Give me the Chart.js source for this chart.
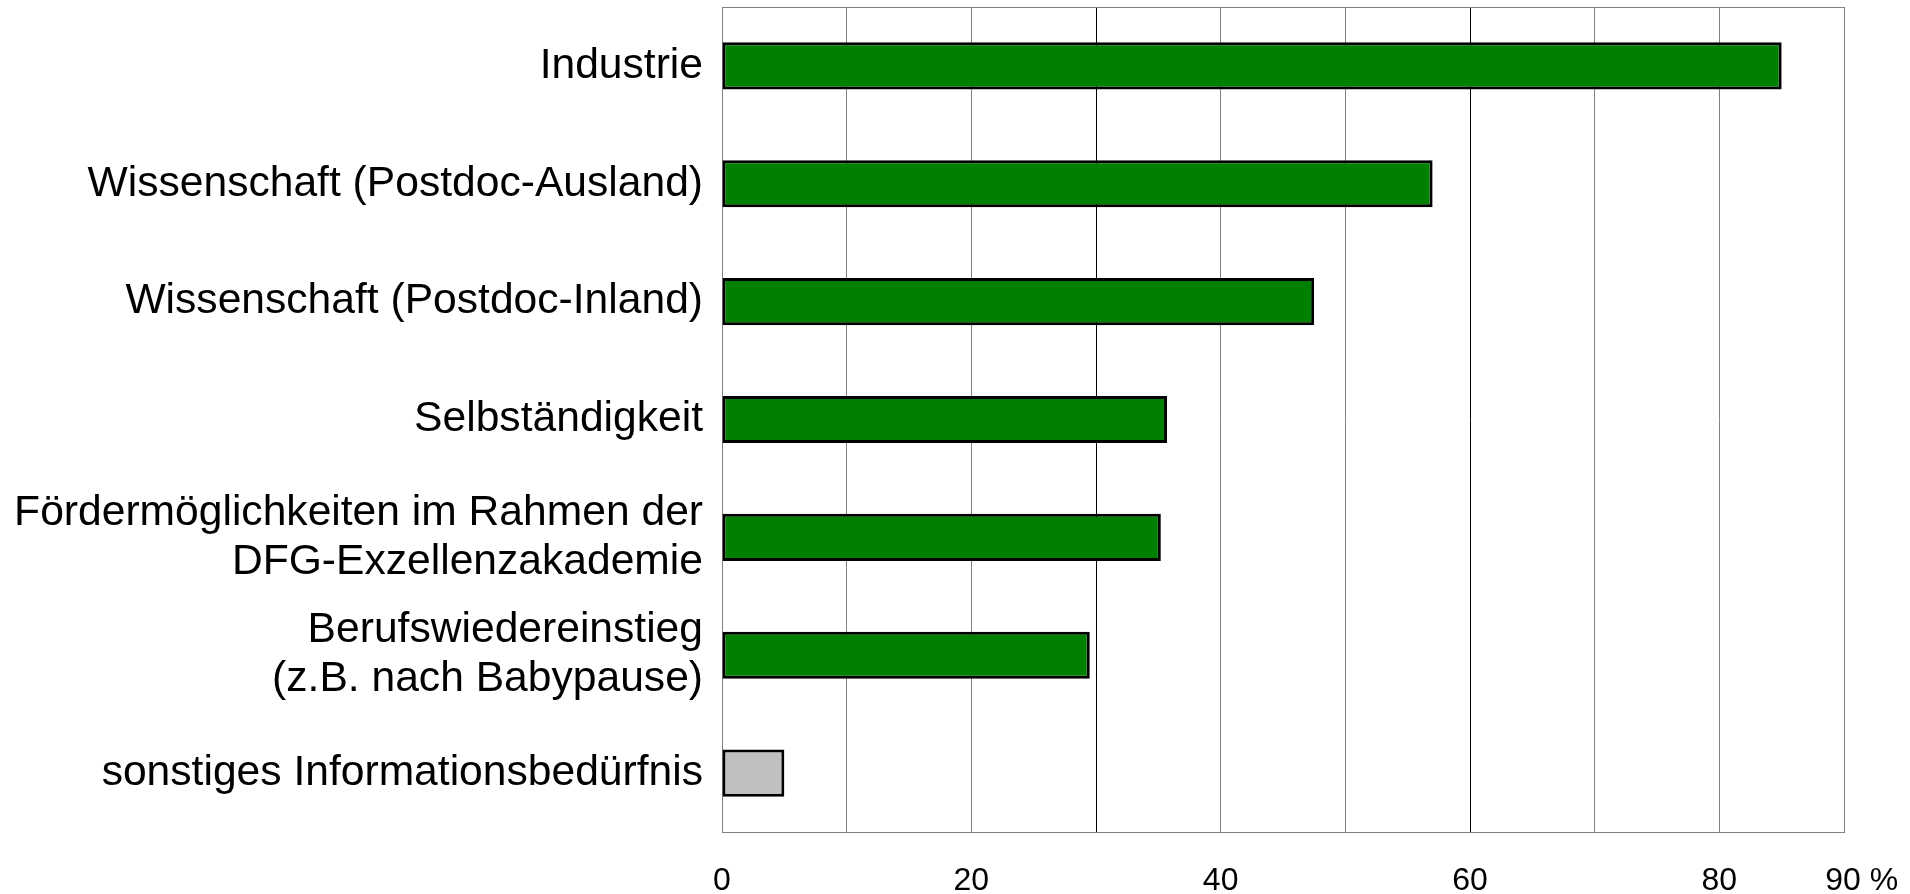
<!doctype html>
<html>
<head>
    <meta charset="utf-8">
    <title>Informationsbedarf</title>
    <script src="https://cdn.jsdelivr.net/npm/chart.js@4.4.0/dist/chart.umd.min.js"></script>
    <style>
    body{ margin:0; background:#fff; font-family: "Liberation Sans", Arial, sans-serif; }
    </style>
</head>
<body>
    <canvas id="chart-area" width="1910" height="894"></canvas>
    <script>
    var themen = ['Industrie',
        'Wissenschaft (Postdoc-Ausland)',
        'Wissenschaft (Postdoc-Inland)',
        'Selbständigkeit',
        ['Fördermöglichkeiten im Rahmen der', 'DFG-Exzellenzakademie'],
        ['Berufswiedereinstieg', '(z.B. nach Babypause)'],
        'sonstiges Informationsbedürfnis'];
    var prozent = [85, 57, 47.5, 35.7, 35.2, 29.5, 5];
    var farben = ['#008000', '#008000', '#008000', '#008000', '#008000', '#008000', '#c0c0c0'];
    var beschriftet = [0, 20, 40, 60, 80, 90];

    // grauer Rahmen um die Zeichenflaeche
    var rahmen = {
        id: 'rahmen',
        beforeDatasetsDraw: function(chart) {
            var a = chart.chartArea, c = chart.ctx;
            c.save();
            c.strokeStyle = '#808080';
            c.lineWidth = 1;
            c.strokeRect(a.left + 0.5, a.top + 0.5, a.right - a.left, a.bottom - a.top);
            c.restore();
        }
    };

    var config = {
        type: 'bar',
        data: {
            labels: themen,
            datasets: [{
                data: prozent,
                backgroundColor: farben,
                borderColor: '#000',
                borderWidth: 3,
                borderSkipped: false,
                barPercentage: 0.4,
                categoryPercentage: 1
            }]
        },
        options: {
            indexAxis: 'y',
            responsive: false,
            animation: false,
            layout: { padding: { left: 0, right: 66, top: 7, bottom: 0 } },
            plugins: { legend: { display: false }, tooltip: { enabled: false } },
            scales: {
                x: {
                    min: 0, max: 90,
                    afterFit: function(s) { s.height = 62; s.paddingLeft = 0; s.paddingRight = 0; },
                    border: { display: false },
                    grid: {
                        drawTicks: false,
                        color: function(ctx) {
                            var v = ctx.tick ? ctx.tick.value : 0;
                            return (v === 30 || v === 60) ? '#000' : '#808080';
                        }
                    },
                    ticks: {
                        stepSize: 10,
                        padding: 30,
                        maxRotation: 0,
                        autoSkip: false,
                        color: '#000',
                        font: { family: 'Liberation Sans', size: 32 },
                        callback: function(v) {
                            if (beschriftet.indexOf(v) < 0) return '';
                            return v === 90 ? '    90 %' : String(v);
                        }
                    }
                },
                y: {
                    afterFit: function(s) { s.width = 722; s.paddingTop = 0; s.paddingBottom = 0; },
                    border: { display: false },
                    grid: { display: false },
                    ticks: {
                        padding: 11,
                        color: '#000',
                        font: { family: 'Liberation Sans', size: 42.6, lineHeight: 1.15 }
                    }
                }
            }
        },
        plugins: [rahmen]
    };

    window.onload = function() {
        var ctx = document.getElementById("chart-area").getContext("2d");
        window.myBar = new Chart(ctx, config);
    };
    </script>
</body>
</html>
